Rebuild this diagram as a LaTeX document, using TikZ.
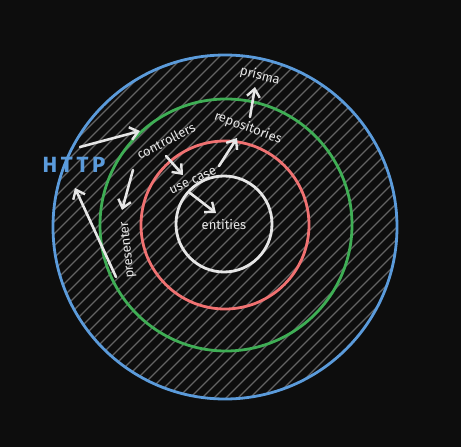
\documentclass[tikz,border=0pt]{standalone}
\usepackage{fontspec}
\setmainfont{Fira Sans}
\usepackage{xcolor}
\usepackage{tikz}
\usetikzlibrary{positioning, arrows.meta}

\definecolor{bgdark}{HTML}{0D0D0D}
\definecolor{hatchgrey}{HTML}{636363}
\definecolor{httpblue}{HTML}{5B9BDB}
\definecolor{ctrlgreen}{HTML}{3FAE55}
\definecolor{casered}{HTML}{F07272}
\definecolor{chalk}{HTML}{E6E6E6}

\begin{document}
\begin{tikzpicture}[
    x=1pt, y=-1pt,
    % Gaya untuk lingkaran lapisan
    ring/.style={
        circle,
        line width=2.8pt,
        inner sep=0pt
    },
    % Gaya untuk label teks
    layer_label/.style={
        text=chalk,
        font=\fontsize{13}{13}\selectfont,
        inner sep=0pt
    },
    % Gaya untuk garis arsir
    hatch/.style={
        draw=hatchgrey,
        line width=1.2pt
    },
    % Gaya untuk panah
    arrow/.style={
        -{Straight Barb[length=8pt, width=13pt, line width=2.4pt]},
        line width=2.6pt,
        line cap=round,
        draw=chalk
    }
]

% =====================================================================
% LATAR BELAKANG
% =====================================================================
\fill [bgdark] (0,0) rectangle (461,447);
\useasboundingbox (0,0) rectangle (461,447);

% =====================================================================
% ARSIR DI DALAM LINGKARAN LUAR
% =====================================================================
\begin{scope}
    \clip (225,227) circle (172);
    \foreach \c in {0,12,...,900}
        \draw [hatch] (\c,0) -- (0,\c);
\end{scope}

% =====================================================================
% DEFINISI LINGKARAN
% =====================================================================
\node (outer) [ring, draw=httpblue, minimum size=344pt] at (225,227) {};
\node (ctrlring) [ring, draw=ctrlgreen, minimum size=252pt] at (226,225) {};
\node (casering) [ring, draw=casered, minimum size=168pt] at (225,225) {};
\node (core) [ring, draw=chalk, minimum size=96pt] at (224,224) {};

% =====================================================================
% DEFINISI NODE / LABEL
% =====================================================================
\node (http) [text=httpblue, font=\fontsize{22}{22}\selectfont\bfseries] at (74,165) {H\,T\,T\,P};
\node (controllers) [layer_label, rotate=27] at (166,141) {controllers};
\node (repositories) [layer_label, rotate=-20] at (248,128) {repositories};
\node (prisma) [layer_label, rotate=-14] at (260,76) {prisma};
\node (usecase) [layer_label, rotate=25] at (193,181) {use case};
\node (entities) [layer_label] at (224,225) {entities};
\node (presenter) [layer_label, rotate=96] at (128,250) {presenter};

% titik ujung panah
\coordinate (http-out) at (80,147);
\coordinate (ctrl-in) at (140,131);
\coordinate (ctrl-down) at (166,156);
\coordinate (case-in) at (183,175);
\coordinate (ctrl-left) at (133,170);
\coordinate (pres-in) at (122,210);
\coordinate (pres-out) at (116,277);
\coordinate (http-in) at (75,188);
\coordinate (case-up) at (219,166);
\coordinate (repo-in) at (237,138);
\coordinate (repo-up) at (250,117);
\coordinate (prisma-in) at (255,87);
\coordinate (case-down) at (190,193);
\coordinate (ent-in) at (216,213);

% =====================================================================
% KONEKSI PANAH / ALUR
% =====================================================================
\draw [arrow] (http-out) -- (ctrl-in);
\draw [arrow] (ctrl-down) -- (case-in);
\draw [arrow] (ctrl-left) -- (pres-in);
\draw [arrow] (pres-out) -- (http-in);
\draw [arrow] (case-up) -- (repo-in);
\draw [arrow] (repo-up) -- (prisma-in);
\draw [arrow] (case-down) -- (ent-in);

\end{tikzpicture}
\end{document}
